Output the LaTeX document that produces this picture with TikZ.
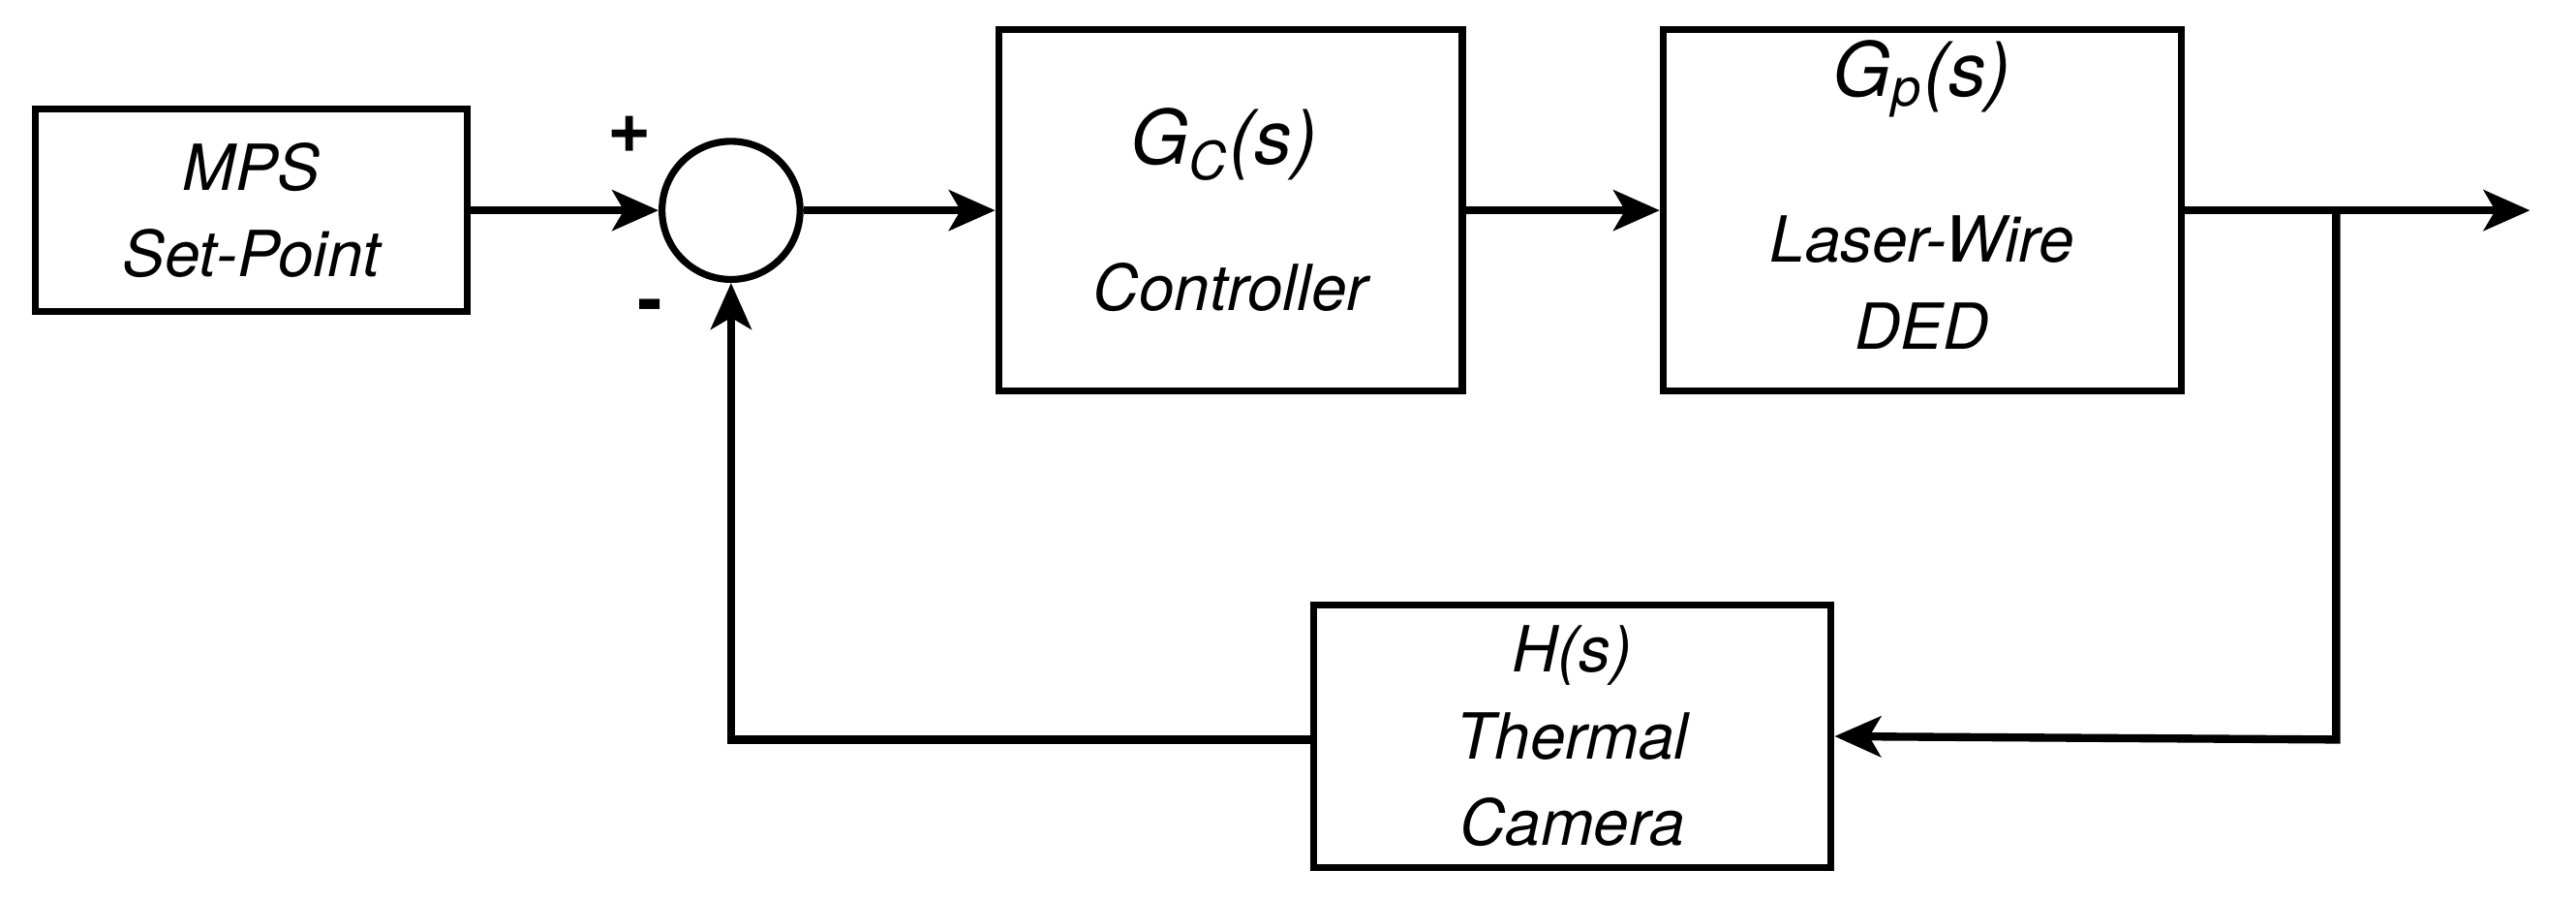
\documentclass[tikz,border=0pt]{standalone}
\usepackage{fontspec}
\setmainfont{TeX Gyre Heros}
\usetikzlibrary{arrows.meta,positioning,calc}
\tikzset{
  block/.style={
    rectangle, draw, line width=1.2pt,
    align=center, inner sep=0pt,
    font=\itshape\fontsize{11}{15}\selectfont
  },
  sumnode/.style={circle, draw, line width=1.2pt, minimum size=0.84cm, inner sep=0pt},
  sign/.style={font=\bfseries\fontsize{13}{13}\selectfont}
}
\begin{document}
\begin{tikzpicture}[>={Stealth[length=8pt,width=7pt,inset=2pt]}, line width=1.4pt, x=0.01cm, y=-0.01cm]
    \useasboundingbox (0,0) rectangle (1568,548);

    %% Blocks
    \node[block, minimum width=2.63cm, minimum height=1.23cm] (mps) at (153,128) {MPS\\Set-Point};
    \node[sumnode] (sum) at (445,128) {};
    \node[block, minimum width=2.82cm, minimum height=2.2cm] (gc) at (749,128) {};
    \node[block, minimum width=3.15cm, minimum height=2.2cm] (gp) at (1170,128) {};
    \node[block, minimum width=3.15cm, minimum height=1.6cm] (hs) at (957,448) {H(s)\\Thermal\\Camera};

    %% Block texts
    \node[font=\itshape\fontsize{13}{15}\selectfont] (gclab) at (745,88) {G\textsubscript{C}(s)};
    \node[font=\itshape\fontsize{11}{15}\selectfont] (gctxt) at (749,175) {Controller};
    \node[font=\itshape\fontsize{13}{15}\selectfont] (gplab) at (1170,48) {G\textsubscript{p}(s)};
    \node[font=\itshape\fontsize{11}{15}\selectfont, align=center] (gptxt) at (1170,172) {Laser-Wire\\DED};

    %% Signs
    \node[sign] (plus) at (383,82) {+};
    \node[sign] (minus) at (396,190) {-};

    %% Connectors
    \coordinate (branch) at (1422,128);
    \coordinate (out) at (1540,128);
    \coordinate (fbr) at (1422,450);
    \coordinate (fbl) at (445,450);
    \draw[->] (mps) -- (sum);
    \draw[->] (sum) -- (gc);
    \draw[->] (gc) -- (gp);
    \draw[->] (gp) -- (out);
    \draw[->] (branch) -- (fbr) -- (hs.east);
    \draw[->] (hs.west |- fbl) -- (fbl) -- (sum);
\end{tikzpicture}
\end{document}
